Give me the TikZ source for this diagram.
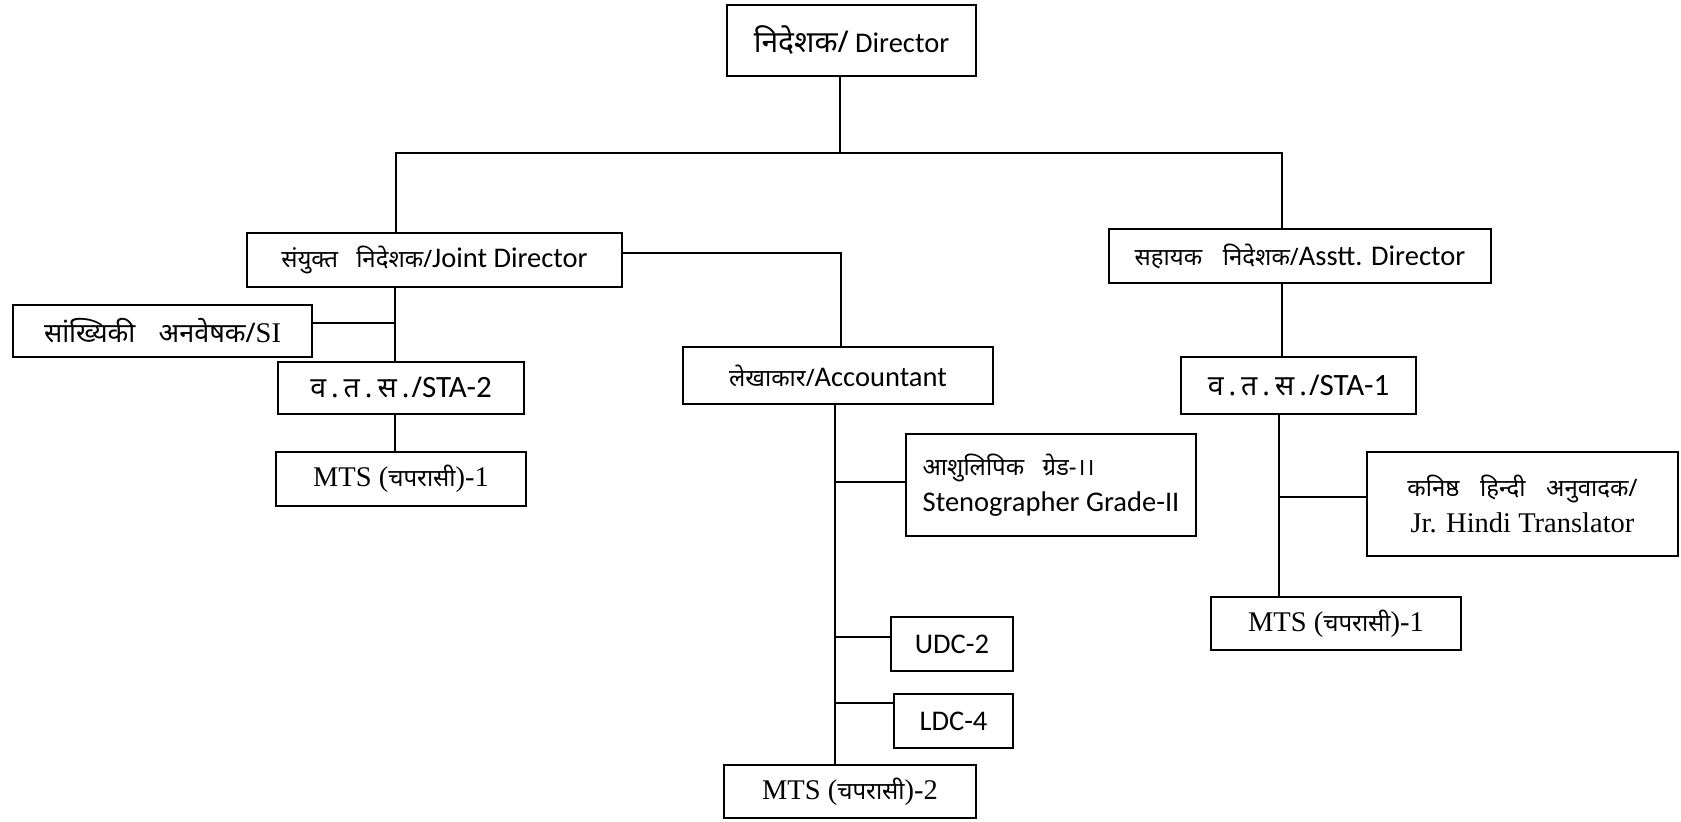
\documentclass[tikz,border=0pt]{standalone}
\usepackage{fontspec}
\setmainfont{Carlito}
\newfontfamily\devfont[Script=Devanagari]{Noto Sans}
\newfontfamily\tnr{Liberation Serif}
\newcommand{\hi}[1]{{\devfont\fontsize{12}{14}\selectfont #1}}
\newcommand{\hisz}[2]{{\devfont\fontsize{#1}{#1}\selectfont #2}}
\newcommand{\vts}{\hisz{14.25}{व\hspace{2.5pt}.\hspace{2.5pt}त\hspace{2.5pt}.\hspace{2.5pt}स\hspace{2.5pt}.\hspace{1pt}/}}
\begin{document}
\begin{tikzpicture}[x=0.5pt, y=-0.5pt,
  box/.style={draw, line width=1.1pt, inner sep=0pt, font=\fontsize{14.25}{18}\selectfont},
  sz/.style 2 args={minimum width=#1*0.5pt, minimum height=#2*0.5pt},
  conn/.style={line width=1pt}]
\useasboundingbox (0,0) rectangle (1681,821);
% boxes
\node[box, sz={249}{71}] (dir) at (851.5,40.5) {\hisz{15}{निदेशक/} Director};
\node[box, sz={375}{54}] (jd) at (434.5,260) {\hi{संयुक्त\hspace{0.5em} निदेशक/}Joint Director};
\node[box, sz={299}{52}] (si) at (162.5,331) {\hisz{13.5}{सांख्यिकी\hspace{0.6em} अनवेषक/}{\tnr SI}};
\node[box, sz={246}{52}] (sta2) at (401,388) {\vts{\fontsize{15.5}{18}\selectfont STA-2}};
\node[box, sz={250}{54}] (mtsl) at (401,479) {\tnr MTS (\hi{चपरासी})-1};
\node[box, sz={310}{57}] (acc) at (838,375.5) {\hi{लेखाकार/}Accountant};
\node[box, sz={290}{102}, align=left] (steno) at (1051,485) {\hi{आशुलिपिक\hspace{0.5em} ग्रेड-।।}\\Stenographer Grade-II};
\node[box, sz={122}{54}] (udc) at (952,644) {UDC-2};
\node[box, sz={119}{54}] (ldc) at (953.5,721) {LDC-4};
\node[box, sz={252}{53}] (mtsc) at (850,791.5) {\tnr MTS (\hi{चपरासी})-2};
\node[box, sz={382}{54}] (asst) at (1300,256) {\hi{सहायक\hspace{0.6em} निदेशक/}Asstt. Director};
\node[box, sz={235}{57}] (sta1) at (1298.5,385.5) {\vts{\fontsize{15.5}{18}\selectfont STA-1}};
\node[box, sz={311}{104}, align=center] (trans) at (1522.5,504) {\hi{कनिष्ठ\hspace{0.6em} हिन्दी\hspace{0.6em} अनुवादक/}\\{\tnr Jr. Hindi Translator}};
\node[box, sz={250}{53}] (mtsr) at (1336,623.5) {\tnr MTS (\hi{चपरासी})-1};
% junction coordinates
\coordinate (j0) at (840,153);
\coordinate (bl) at (396,153);
\coordinate (br) at (1282,153);
\coordinate (siJ) at (395,323);
\coordinate (ja) at (841,253);
\coordinate (acx) at (835,482);
\coordinate (udcJ) at (835,637);
\coordinate (ldcJ) at (835,703);
\coordinate (trJ) at (1279,497);
% connectors
\draw[conn] (dir.south -| j0) -- (j0);
\draw[conn] (jd.north -| bl) -- (bl) -- (br) -- (asst.north -| br);
\draw[conn] (jd.south -| siJ) -- (sta2.north -| siJ);
\draw[conn] (si.east |- siJ) -- (siJ);
\draw[conn] (sta2.south -| siJ) -- (mtsl.north -| siJ);
\draw[conn] (jd.east |- ja) -- (ja) -- (acc.north -| ja);
\draw[conn] (acc.south -| acx) -- (mtsc.north -| acx);
\draw[conn] (acx) -- (steno.west |- acx);
\draw[conn] (udcJ) -- (udc.west |- udcJ);
\draw[conn] (ldcJ) -- (ldc.west |- ldcJ);
\draw[conn] (asst.south -| br) -- (sta1.north -| br);
\draw[conn] (sta1.south -| trJ) -- (mtsr.north -| trJ);
\draw[conn] (trJ) -- (trans.west |- trJ);
\end{tikzpicture}
\end{document}
